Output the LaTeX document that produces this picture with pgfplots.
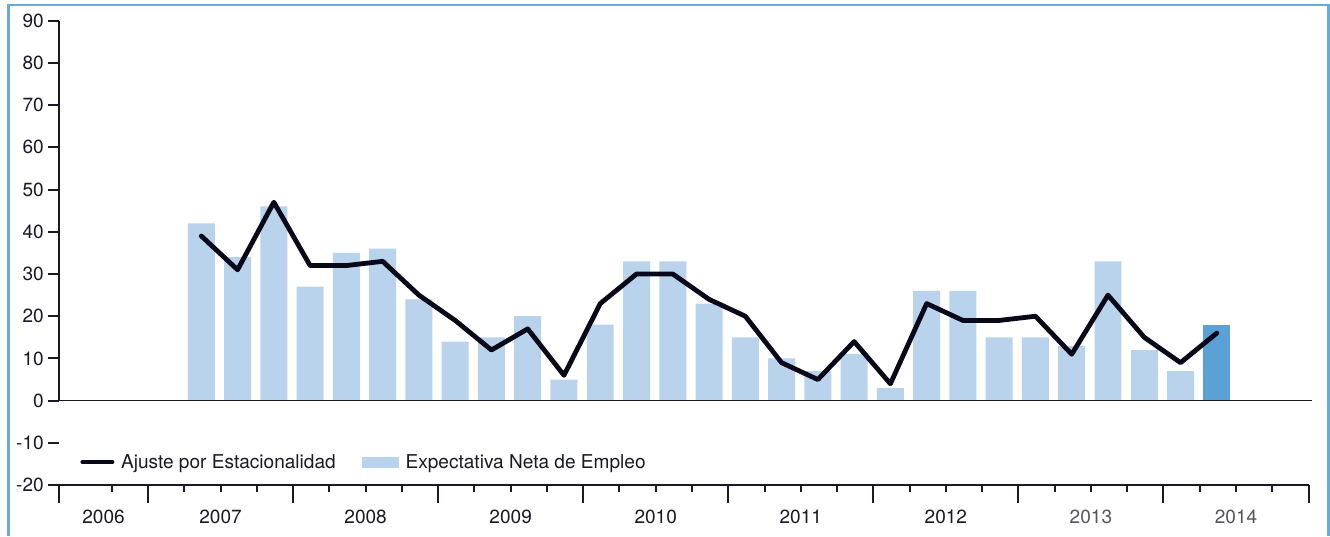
\documentclass[border=0pt]{standalone}
\usepackage{fontspec}
\setmainfont{TeX Gyre Heros}
\usepackage{pgfplots}
\usepackage{pgfplotstable}
\pgfplotsset{compat=1.18}

\definecolor{barlight}{RGB}{184,211,235}
\definecolor{bardark}{RGB}{91,161,214}
\definecolor{linecol}{RGB}{8,8,24}
\definecolor{axiscol}{RGB}{25,25,40}
\definecolor{framecol}{RGB}{106,170,216}
\definecolor{yeargray}{RGB}{85,85,95}

% quarterly series, 2007 Q2 .. 2014 Q2
\pgfplotstableread{
x     bar line
1.47  42  39
2.47  34  31
3.47  46  47
4.47  27  32
5.47  35  32
6.47  36  33
7.47  24  25
8.47  14  19
9.47  15  12
10.47 20  17
11.47  5   6
12.47 18  23
13.47 33  30
14.47 33  30
15.47 23  24
16.47 15  20
17.47 10   9
18.47  7   5
19.47 11  14
20.47  3   4
21.47 26  23
22.47 26  19
23.47 15  19
24.47 15  20
25.47 13  11
26.47 33  25
27.47 12  15
28.47  7   9
29.47 18  16
}\datatable

\newcommand{\lbl}{\fontsize{14.3}{16}\selectfont}

\begin{document}
\begin{tikzpicture}
\path[use as bounding box] (0,0) rectangle (997.5pt,402pt);
\draw[framecol, line width=1.8pt] (6.4pt,0) -- (6.4pt,398.2pt) -- (996.4pt,398.2pt) -- (996.4pt,0);
\begin{axis}[
    anchor=origin, at={(111pt,101.5pt)},
    x=27.2pt, y=3.1667pt,
    xmin=-2.45, xmax=32, ymin=-20, ymax=90,
    enlargelimits=false, clip=false,
    axis line style={draw=none},
    xtick=\empty,
    ytick={-20,-10,...,90},
    yticklabels={-20,-10,0,10,20,30,40,50,60,70,80,90},
    ytick pos=left,
    tick align=outside, major tick length=8pt,
    tick style={axiscol, line width=1.5pt},
    yticklabel style={font=\lbl, text=axiscol},
    legend columns=2,
    legend style={draw=none, fill=none, at={(0.0168,0.0495)}, anchor=west,
        inner sep=0pt, font=\lbl, text=axiscol,
        /tikz/every odd column/.append style={column sep=3pt},
        /tikz/every even column/.append style={column sep=18pt}},
]
\addlegendimage{legend image code/.code={
    \draw[linecol, line width=3pt, line cap=round] (1.5pt,0pt) -- (24pt,0pt);}}
\addlegendentry{Ajuste por Estacionalidad}
\addlegendimage{legend image code/.code={
    \fill[barlight] (0pt,-4pt) rectangle (27pt,4pt);}}
\addlegendentry{Expectativa Neta de Empleo}

\addplot[ybar, bar width=0.744, bar shift=0pt, fill=barlight, draw=none, forget plot,
    restrict x to domain=0:29] table[x=x, y=bar] {\datatable};
\addplot[ybar, bar width=0.744, bar shift=0pt, fill=bardark, draw=none, forget plot]
    coordinates {(29.47,18)};

\draw[axiscol, line width=1.2pt] (axis cs:-2.45,0) -- (axis cs:32.1,0);
\draw[axiscol, line width=1.6pt] (axis cs:-2.45,0) -- (axis cs:-2.45,90);
\draw[axiscol, line width=1.6pt] (axis cs:-2.45,-20) -- (axis cs:32,-20);
\pgfplotsinvokeforeach{-2.45,0,4,8,12,16,20,24,28,32}{
    \draw[axiscol, line width=1.5pt] (axis cs:#1,-20) -- ++(0pt,-13.5pt);}
\pgfplotsinvokeforeach{-1,1,2,3,5,6,7,9,10,11,13,14,15,17,18,19,21,22,23,25,26,27,29,30,31}{
    \draw[axiscol, line width=1.5pt] (axis cs:#1,-20) -- ++(0pt,-5pt);}

\addplot[linecol, line width=3.6pt, line join=round, line cap=round, forget plot]
    table[x=x, y=line] {\datatable};

\node[font=\lbl, text=axiscol, yshift=-24pt] at (axis cs:-1.226,-20) {2006};
\node[font=\lbl, text=axiscol, yshift=-24pt] at (axis cs:2,-20) {2007};
\node[font=\lbl, text=axiscol, yshift=-24pt] at (axis cs:6,-20) {2008};
\node[font=\lbl, text=axiscol, yshift=-24pt] at (axis cs:10,-20) {2009};
\node[font=\lbl, text=axiscol, yshift=-24pt] at (axis cs:14,-20) {2010};
\node[font=\lbl, text=axiscol, yshift=-24pt] at (axis cs:18,-20) {2011};
\node[font=\lbl, text=axiscol, yshift=-24pt] at (axis cs:22,-20) {2012};
\node[font=\lbl, text=yeargray, yshift=-24pt] at (axis cs:26,-20) {2013};
\node[font=\lbl, text=yeargray, yshift=-24pt] at (axis cs:30,-20) {2014};
\end{axis}
\end{tikzpicture}
\end{document}
